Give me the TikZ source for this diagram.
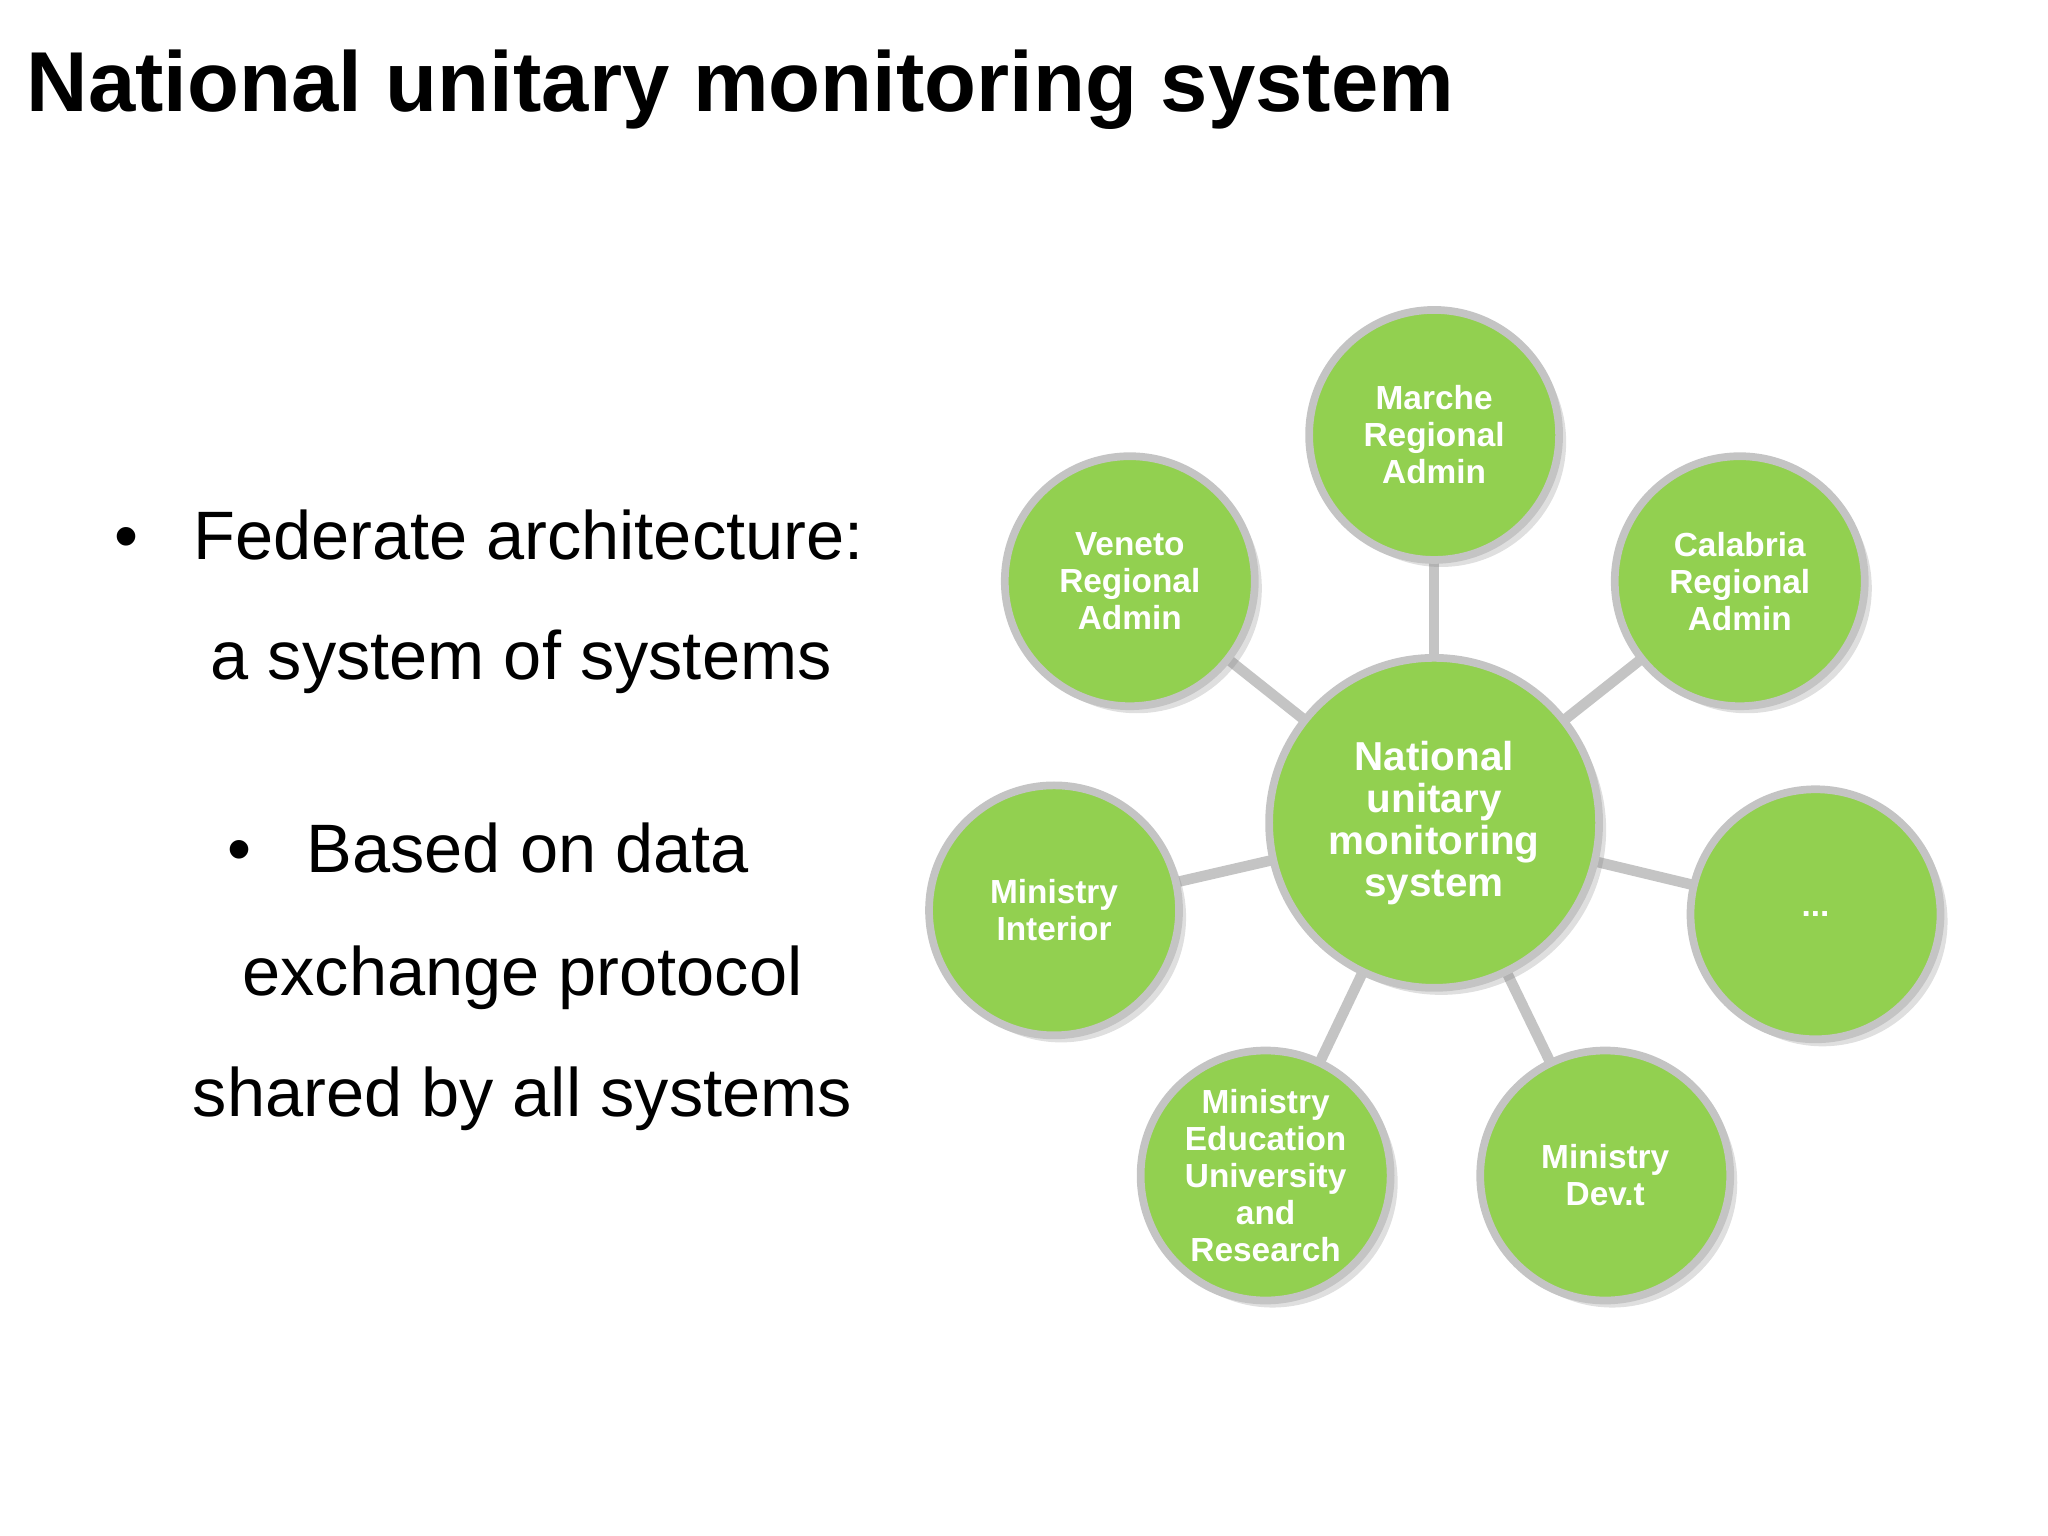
\documentclass[tikz,border=0pt]{standalone}
\usepackage{fontspec}
\setmainfont{Liberation Sans}
\usetikzlibrary{shadows,backgrounds}
\definecolor{leaf}{HTML}{92D050}
\definecolor{rim}{HTML}{C4C4C4}
\begin{document}
\begin{tikzpicture}[x=0.01306cm,y=-0.01306cm,
  sat/.style={circle,fill=leaf,draw=rim,line width=2.2pt,minimum size=2.5cm,
    text=white,font=\bfseries\fontsize{9.5}{10.5}\selectfont,align=center,
    inner sep=1pt,drop shadow={opacity=0.25,shadow xshift=2pt,shadow yshift=-2pt}},
  hub/.style={sat,minimum size=3.3cm,font=\bfseries\fontsize{11.5}{12}\selectfont},
  bullet/.style={anchor=base west,font=\fontsize{19.5}{22}\selectfont},
  line/.style={anchor=base,font=\fontsize{19.5}{22}\selectfont},
  link/.style={draw=rim,line width=3pt}]
\useasboundingbox (0,0) rectangle (1568,1176);
\node[anchor=base west,inner sep=0pt,font=\bfseries\fontsize{24.2}{27}\selectfont] (title) at (20,85) {National unitary monitoring system};
\node[bullet,inner sep=0pt] (b1) at (87,428) {\textbullet\hspace{0.8em}Federate architecture:};
\node[line] (b1b) at (399,520) {a system of systems};
\node[bullet,inner sep=0pt] (b2) at (174,668) {\textbullet\hspace{0.8em}Based on data};
\node[line] (b2b) at (400,762) {exchange protocol};
\node[line] (b2c) at (400,855) {shared by all systems};
\node[hub] (nat) at (1098,630) {National\\unitary\\monitoring\\system};
\node[sat] (marche) at (1098,333) {Marche\\Regional\\Admin};
\node[sat] (veneto) at (865,445) {Veneto\\Regional\\Admin};
\node[sat] (calabria) at (1332,445) {Calabria\\Regional\\Admin};
\node[sat] (interior) at (807,697) {Ministry\\Interior};
\node[sat] (dots) at (1390,700) {...};
\node[sat] (edu) at (969,900) {Ministry\\Education\\University\\and\\Research};
\node[sat] (dev) at (1229,900) {Ministry\\Dev.t};
\begin{scope}[on background layer]
\foreach \n in {marche,veneto,calabria,interior,dots,edu,dev}
  \path[link] (nat.center) -- (\n.center);
\end{scope}
\end{tikzpicture}
\end{document}
